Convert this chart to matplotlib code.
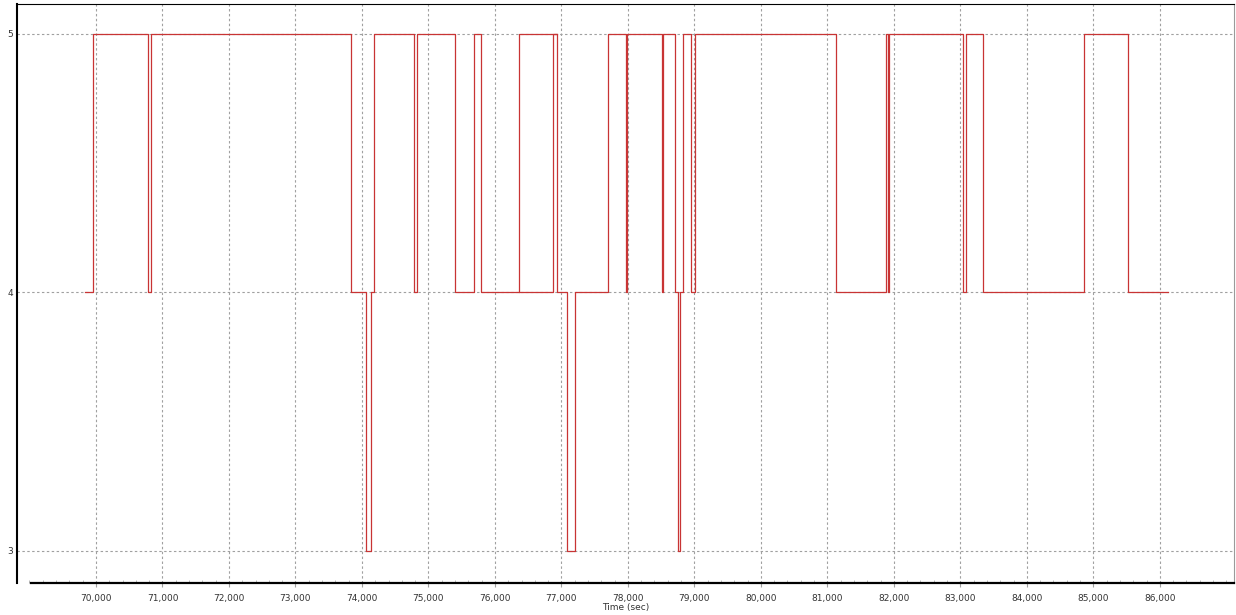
import matplotlib
matplotlib.use("Agg")
import matplotlib.pyplot as plt
from matplotlib.ticker import MultipleLocator, FuncFormatter

# change points of the logged value: time (sec) and level after the change
change_times = [69835, 69955, 70782, 70827, 73835, 74061, 74136, 74181, 74783, 74828,
                75399, 75685, 75790, 76362, 76933, 77084, 77204, 77700, 77971, 77986,
                78513, 78528, 78708, 78754, 78784, 78830, 78949, 79009, 81130, 81882,
                81912, 81927, 83040, 83085, 83340, 84860, 85521]
change_levels = [4, 5, 4, 5, 4, 3, 4, 5, 4, 5,
                 4, 5, 4, 5, 4, 3, 4, 5, 4, 5,
                 4, 5, 4, 3, 4, 5, 4, 5, 4, 5,
                 4, 5, 4, 5, 4, 5, 4]
end_time = 86123

# short second trace that overlaps the first around 76,400-76,900
overlap_times = [76362, 76873, 76933]
overlap_levels = [4, 5, 5]

y_ticks = [3, 4, 5]
x_major = list(range(70000, 86001, 1000))

LINE_RED = "#c83434"
GRID = "#a0a0a0"
TEXT = "#333333"

fig = plt.figure(figsize=(12.36, 6.15), dpi=100)
ax = fig.add_axes([17 / 1236, 32 / 615, 1217 / 1236, 579 / 615])

times = change_times + [end_time]
levels = change_levels + [change_levels[-1]]
ax.plot(times, levels, drawstyle="steps-post", color=LINE_RED, lw=0.9, zorder=3)
ax.plot(overlap_times, overlap_levels, drawstyle="steps-post", color=LINE_RED, lw=0.9, zorder=3)

ax.set_xlim(68812, 87116)
ax.set_ylim(2.876, 5.116)

ax.set_xticks(x_major)
ax.xaxis.set_major_formatter(FuncFormatter(lambda v, p: f"{int(v):,}"))
ax.xaxis.set_minor_locator(MultipleLocator(200))
ax.set_yticks(y_ticks)

ax.grid(True, which="major", color=GRID, linestyle=(0, (2.2, 2.2)), lw=0.8, zorder=1)

ax.tick_params(axis="x", which="major", direction="out", length=3, color=GRID,
               labelsize=6.5, labelcolor=TEXT, pad=5)
ax.tick_params(axis="x", which="minor", direction="in", length=2.5, color="#b0b0b0")
ax.tick_params(axis="y", which="major", direction="out", length=0, labelsize=6.5,
               labelcolor=TEXT, pad=3)

ax.set_xlabel("Time (sec)", fontsize=6.5, color=TEXT, labelpad=0)

for side in ["left", "top"]:
    ax.spines[side].set_color("black")
ax.spines["left"].set_linewidth(1.5)
ax.spines["top"].set_linewidth(0.8)
ax.spines["bottom"].set_color("black")
ax.spines["bottom"].set_linewidth(1.6)
ax.spines["bottom"].set_bounds(69022, 87116)
ax.spines["right"].set_color("#9a9a9a")
ax.spines["right"].set_linewidth(0.8)

plt.savefig("out.png", dpi=100)
